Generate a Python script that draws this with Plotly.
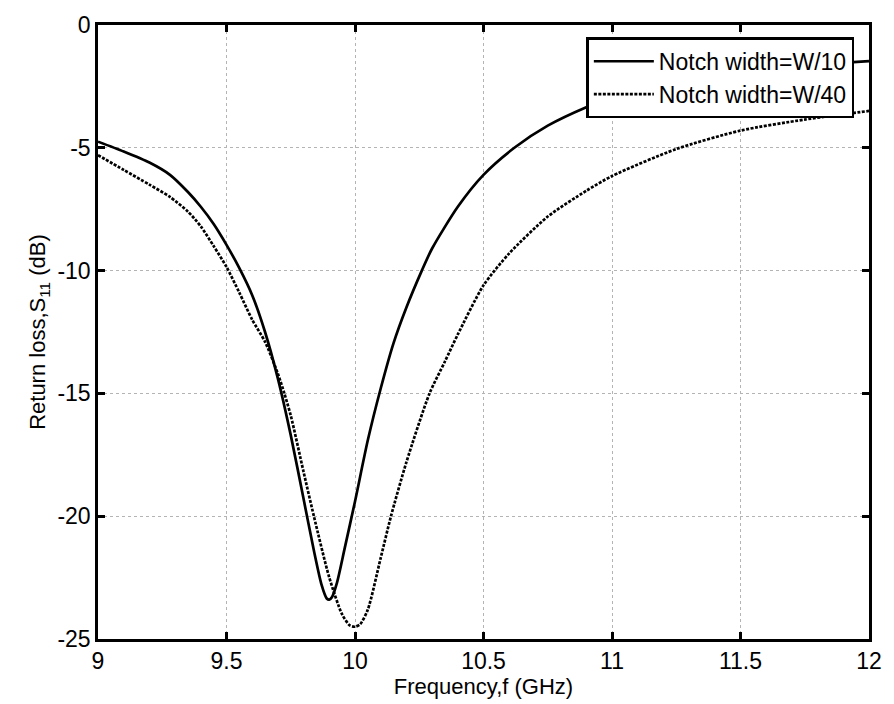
import plotly.graph_objects as go

# Frequency (GHz) and return loss (dB)
freq_w10 = [9.0, 9.1, 9.2, 9.28, 9.35, 9.4, 9.45, 9.5, 9.55, 9.6, 9.65, 9.7, 9.75,
            9.8, 9.84, 9.87, 9.89, 9.9, 9.91, 9.93, 9.96, 10.0, 10.05, 10.1, 10.15, 10.2, 10.26,
            10.3, 10.4, 10.5, 10.62, 10.75, 10.9, 11.0, 11.25, 11.5, 11.75, 12.0]
s11_w10 = [-4.75, -5.15, -5.6, -6.1, -6.8, -7.4, -8.1, -8.95, -9.9, -11.0, -12.5, -14.4, -16.7,
           -19.3, -21.4, -22.8, -23.35, -23.4, -23.3, -22.7, -21.3, -19.4, -16.9, -14.8, -12.95, -11.5, -10.0,
           -9.1, -7.4, -6.1, -5.0, -4.1, -3.35, -2.95, -2.35, -1.95, -1.65, -1.47]

freq_w40 = [9.0, 9.1, 9.2, 9.28, 9.35, 9.4, 9.45, 9.5, 9.55, 9.6, 9.65, 9.7, 9.725,
            9.75, 9.8, 9.84, 9.9, 9.95, 9.98, 10.0, 10.02, 10.05, 10.1, 10.14, 10.2, 10.29, 10.35,
            10.4, 10.5, 10.6, 10.75, 10.9, 11.0, 11.25, 11.5, 11.75, 12.0]
s11_w40 = [-5.3, -5.9, -6.5, -7.0, -7.6, -8.2, -9.0, -9.85, -10.9, -12.0, -12.9, -14.2, -15.0,
           -15.9, -18.2, -20.0, -22.5, -24.0, -24.45, -24.5, -24.4, -23.8, -21.7, -20.0, -17.8, -15.0, -13.7,
           -12.6, -10.6, -9.3, -7.8, -6.75, -6.15, -5.05, -4.3, -3.85, -3.5]

series_names = ["Notch width=W/10", "Notch width=W/40"]
x_ticks = [9, 9.5, 10, 10.5, 11, 11.5, 12]
y_ticks = [0, -5, -10, -15, -20, -25]

FONT = "Liberation Sans, Arial, sans-serif"

fig = go.Figure()
fig.add_trace(go.Scatter(x=freq_w10, y=s11_w10, name=series_names[0], mode="lines",
                         line=dict(color="black", width=2.7, shape="spline", smoothing=0.7)))
fig.add_trace(go.Scatter(x=freq_w40, y=s11_w40, name=series_names[1], mode="lines",
                         line=dict(color="black", width=2.7, dash="3px,1.5px",
                                   shape="spline", smoothing=0.7)))

axis_common = dict(
    showline=True, linecolor="black", linewidth=2.5, mirror="ticks",
    ticks="inside", ticklen=7, tickwidth=2.5, tickcolor="black",
    showgrid=True, gridcolor="#b4b4b4", gridwidth=1, griddash="dot",
    zeroline=False,
    tickfont=dict(family=FONT, size=23, color="black"),
)

fig.update_xaxes(range=[9, 12], tickvals=x_ticks, ticktext=[str(v) for v in x_ticks],
                 title=dict(text="Frequency,f (GHz)", font=dict(family=FONT, size=22, color="black"),
                            standoff=2),
                 **axis_common)
fig.update_yaxes(range=[-25, 0], tickvals=y_ticks, ticktext=[str(v) for v in y_ticks],
                 title=dict(text="Return loss,S<sub>11</sub> (dB)",
                            font=dict(family=FONT, size=22, color="black"), standoff=6),
                 **axis_common)

fig.update_layout(
    width=894, height=704,
    margin=dict(l=98, r=14, t=25, b=65),
    paper_bgcolor="white", plot_bgcolor="white",
    showlegend=True,
    legend=dict(x=0.981, y=0.980, xanchor="right", yanchor="top",
                bgcolor="white", bordercolor="black", borderwidth=2.5,
                font=dict(family=FONT, size=23, color="black"),
                tracegroupgap=0, itemwidth=60),
)

fig.write_html("out.html")
